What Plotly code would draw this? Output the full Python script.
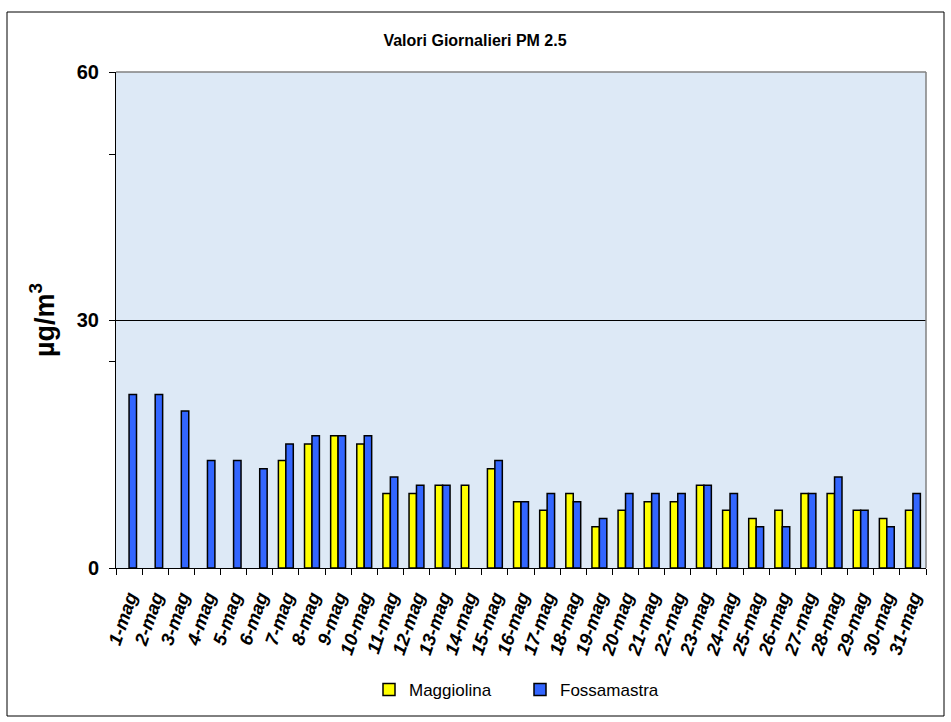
import plotly.graph_objects as go

days = [f"{d}-mag" for d in range(1, 32)]
maggiolina = [None, None, None, None, None, None, 13, 15, 16, 15,
              9, 9, 10, 10, 12, 8, 7, 9, 5, 7,
              8, 8, 10, 7, 6, 7, 9, 9, 7, 6, 7]
fossamastra = [21, 21, 19, 13, 13, 12, 15, 16, 16, 16,
               11, 10, 10, None, 13, 8, 9, 8, 6, 9,
               9, 9, 10, 9, 5, 5, 9, 11, 7, 5, 9]
y_ticks = [0, 30, 60]
y_minor = [25, 50]

FONT = "Liberation Sans, Arial, sans-serif"
W, H = 951, 722
L, R, T, B = 116, 926, 72, 568
pw, ph = R - L, B - T

fig = go.Figure()
fig.add_trace(go.Bar(x=days, y=maggiolina, name="Maggiolina",
                     marker=dict(color="#FFFF00", line=dict(color="black", width=1.5))))
fig.add_trace(go.Bar(x=days, y=fossamastra, name="Fossamastra",
                     marker=dict(color="#3366FF", line=dict(color="black", width=1.5))))

fig.update_layout(
    width=W, height=H,
    margin=dict(l=L, r=W - R, t=T, b=H - B, pad=0),
    paper_bgcolor="white",
    plot_bgcolor="#dde9f6",
    barmode="group", bargap=0.43, bargroupgap=0,
    title=dict(text="<b>Valori Giornalieri PM 2.5</b>", x=475 / W, xanchor="center",
               xref="container", y=1 - 40 / H, yanchor="middle", yref="container",
               font=dict(family=FONT, size=16, color="black")),
    font=dict(family=FONT, color="black"),
    showlegend=True,
    legend=dict(orientation="h", x=(520 - L) / pw, xanchor="center",
                y=(B - 690) / ph, yanchor="middle",
                font=dict(family=FONT, size=17, color="black"),
                entrywidth=106, entrywidthmode="pixels",
                bgcolor="rgba(0,0,0,0)"),
)

fig.update_xaxes(
    type="category", showline=True, linecolor="black", linewidth=1,
    ticks="outside", tickson="boundaries", ticklen=6, tickcolor="black",
    tickangle=-71, showgrid=False,
    tickfont=dict(family=FONT, size=18.5, color="black", weight="bold", style="italic"),
    ticklabelstandoff=10,
)
fig.update_yaxes(
    range=[0, 60], tickmode="array", tickvals=y_ticks,
    ticktext=[str(v) for v in y_ticks],
    showline=True, linecolor="black", linewidth=1,
    ticks="outside", ticklen=6, tickcolor="black",
    showgrid=True, gridcolor="black", gridwidth=1, zeroline=False,
    minor=dict(tickmode="array", tickvals=y_minor, ticks="outside", ticklen=6,
               tickcolor="black", showgrid=False),
    tickfont=dict(family=FONT, size=20, color="black", weight="bold"),
    ticklabelstandoff=6,
    title=dict(text="<b>µg/m<sup>3</sup></b>", standoff=14,
               font=dict(family=FONT, size=27, color="black")),
)

# plot-area top/right border (gray) and outer chart border
fig.add_shape(type="line", xref="paper", yref="paper", x0=0, x1=1, y0=1, y1=1,
              line=dict(color="#808080", width=1.5), layer="above")
fig.add_shape(type="line", xref="paper", yref="paper", x0=1, x1=1, y0=0, y1=1,
              line=dict(color="#808080", width=1.5), layer="above")
fig.add_shape(type="rect", xref="paper", yref="paper",
              x0=(7 - L) / pw, x1=(944 - L) / pw,
              y0=(B - 716) / ph, y1=(B - 12) / ph,
              line=dict(color="black", width=1), fillcolor="rgba(0,0,0,0)", layer="below")

fig.write_html("out.html", config={"displayModeBar": False},
               post_script="document.body.style.margin='0';document.body.style.overflow='hidden';")
